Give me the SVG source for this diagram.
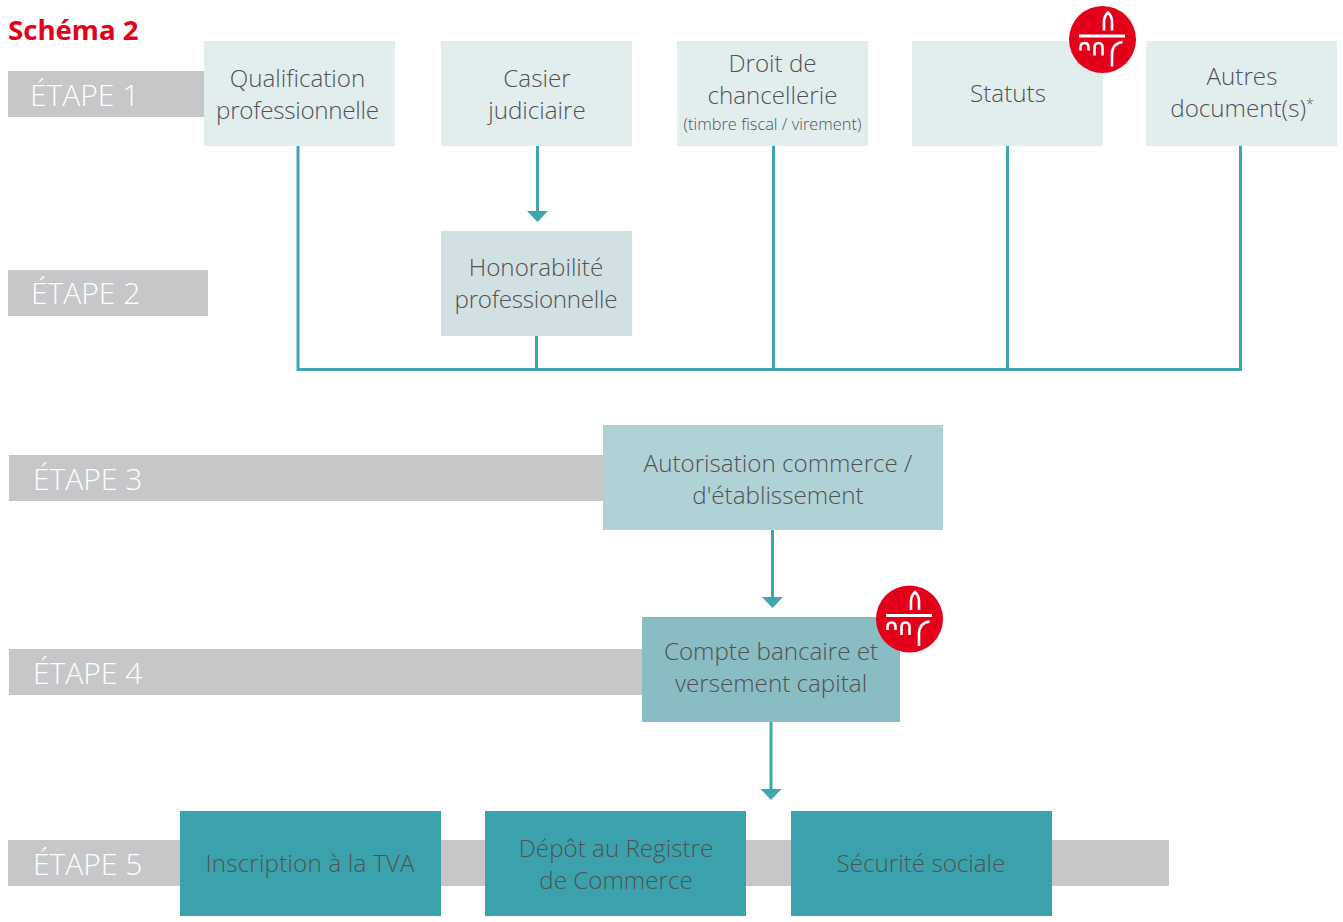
<svg xmlns="http://www.w3.org/2000/svg" width="1343" height="922" viewBox="0 0 1343 922">
<style>
text{font-family:"Open Sans","Noto Sans","Liberation Sans",sans-serif;font-weight:300}
.t{font-size:24.2px;fill:#505254;text-anchor:middle}
.s{font-size:16.4px;fill:#505254;text-anchor:middle}
.e{font-size:30px;fill:#fff}
.b{fill:#c6c7c9}
.n1{fill:#e2eeee}.n2{fill:#d1e1e3}.n3{fill:#b0d1d6}.n4{fill:#89bcc3}.n5{fill:#3ba2ad}
.c{fill:none;stroke:#3fa6b0;stroke-width:3}
.a{fill:#3fa6b0}
.lg{fill:none;stroke:#fff;stroke-width:2.6}
</style>
<defs>
<symbol id="logo" overflow="visible">
<circle cx="0" cy="0" r="33.5" fill="#e2001a"/>
<path fill="#fff" d="M-23.500-5H22.500V-2H-23.500z"/>
<path class="lg" d="M1.500-9V-18Q1.500-23 5.500-27Q9.500-23 9.500-18V-9"/>
<path class="lg" d="M-22 11V8Q-22 3.500-18 3.500Q-14 3.500-14 8V11"/>
<path class="lg" d="M-8 16V8Q-8 3.500-4 3.500Q0 3.500 0 8V16"/>
<path class="lg" d="M20 2.500Q9.500 4 9.500 15V27"/>
</symbol>
</defs>
<text id="title" x="8" y="40" style="font-weight:700;font-size:27.6px;fill:#e2001a">Schéma 2</text>
<g id="bands">
<rect class="b" x="8" y="71" width="197" height="46"/>
<rect class="b" x="8" y="270" width="200" height="46"/>
<rect class="b" x="9" y="455" width="595" height="46"/>
<rect class="b" x="9" y="649" width="634" height="46"/>
<rect class="b" x="8" y="840" width="1161" height="46"/>
<text class="e" x="30" y="106">ÉTAPE 1</text>
<text class="e" x="31" y="304">ÉTAPE 2</text>
<text class="e" x="33" y="490">ÉTAPE 3</text>
<text class="e" x="33" y="684">ÉTAPE 4</text>
<text class="e" x="33" y="874.500">ÉTAPE 5</text>
</g>
<g id="connectors">
<path class="c" d="M298 146V369.500H1240.500V146M536.500 336V369.500M773.500 146V369.500M1007.500 146V369.500"/>
<path class="c" d="M537.500 146V212M772.500 530V598M771 722V790"/>
<path class="a" d="M527 211H548L537.500 222zM762 597H783L772.500 608zM760.500 789H781.500L771 800z"/>
</g>
<g id="n-qualification"><rect class="n1" x="204" y="41" width="191" height="105"/><text class="t" x="297.500" y="87">Qualification</text><text class="t" x="297.500" y="119" textLength="163">professionnelle</text></g>
<g id="n-casier"><rect class="n1" x="441" y="41" width="191" height="105"/><text class="t" x="537" y="87">Casier</text><text class="t" x="537" y="119">judiciaire</text></g>
<g id="n-droit"><rect class="n1" x="677" y="41" width="191" height="105"/><text class="t" x="772.500" y="72">Droit de</text><text class="t" x="772.500" y="104">chancellerie</text><text class="s" x="772.500" y="130">(timbre fiscal / virement)</text></g>
<g id="n-statuts"><rect class="n1" x="912" y="41" width="191" height="105"/><text class="t" x="1008" y="102">Statuts</text><use href="#logo" x="1102.500" y="39.500"/></g>
<g id="n-autres"><rect class="n1" x="1146" y="41" width="191" height="105"/><text class="t" x="1242" y="85">Autres</text><text class="t" x="1242" y="117">document(s)<tspan font-size="14" dy="-8">*</tspan></text></g>
<g id="n-honorabilite"><rect class="n2" x="441" y="231" width="191" height="105"/><text class="t" x="536" y="276">Honorabilité</text><text class="t" x="536" y="308" textLength="163">professionnelle</text></g>
<g id="n-autorisation"><rect class="n3" x="603" y="425" width="340" height="105"/><text class="t" x="778" y="472">Autorisation commerce /</text><text class="t" x="778" y="504">d'établissement</text></g>
<g id="n-compte"><rect class="n4" x="642" y="617" width="258" height="105"/><text class="t" x="771" y="660">Compte bancaire et</text><text class="t" x="771" y="692">versement capital</text><use href="#logo" x="909.500" y="619"/></g>
<g id="n-tva"><rect class="n5" x="180" y="811" width="261" height="105"/><text class="t" x="310" y="872" textLength="209">Inscription à la TVA</text></g>
<g id="n-depot"><rect class="n5" x="485" y="811" width="261" height="105"/><text class="t" x="616" y="857">Dépôt au Registre</text><text class="t" x="616" y="889">de Commerce</text></g>
<g id="n-secu"><rect class="n5" x="791" y="811" width="261" height="105"/><text class="t" x="921" y="872">Sécurité sociale</text></g>
</svg>
